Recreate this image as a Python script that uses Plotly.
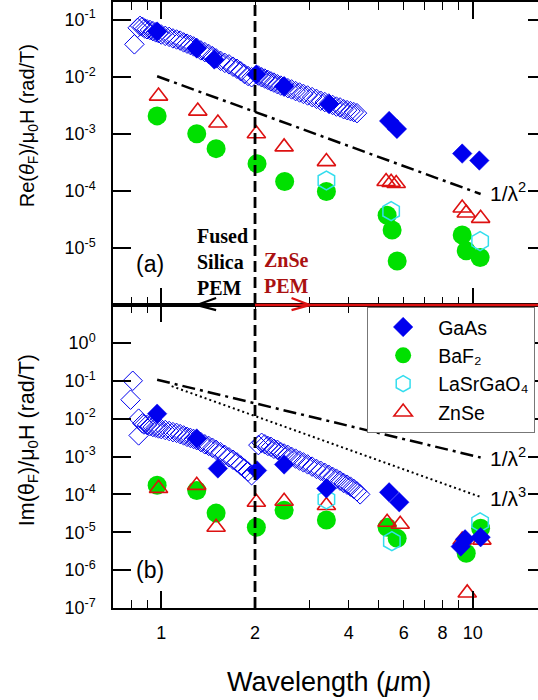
import math
import plotly.graph_objects as go

# ---------------- data : top panel (real part) ----------------
gaas_re_wl = [0.97, 1.30, 1.48, 2.02, 2.48, 3.46, 5.39, 5.71, 9.25, 10.5]
gaas_re = [0.0618, 0.0313, 0.0201, 0.0110, 0.00684, 0.00333, 0.00168, 0.00122, 0.00045, 0.00034]

gaas_re_cont_wl = [0.82, 0.84, 0.855, 0.87, 0.885, 0.90, 0.92, 0.94, 0.96, 0.98, 1.00, 1.03, 1.06,
                   1.09, 1.12, 1.15, 1.18, 1.21, 1.24, 1.27, 1.30, 1.34, 1.38, 1.42, 1.46, 1.50,
                   1.55, 1.60, 1.65, 1.70, 1.75, 1.80, 1.85, 1.90, 1.95,
                   2.05, 2.10, 2.15, 2.20, 2.25, 2.30, 2.36, 2.42, 2.48, 2.55, 2.62, 2.70, 2.78,
                   2.86, 2.95, 3.05, 3.15, 3.25, 3.35, 3.45, 3.55, 3.65, 3.75, 3.85, 3.95, 4.05,
                   4.15, 4.25]
gaas_re_cont = [0.037, 0.072, 0.078, 0.075, 0.070, 0.068, 0.066, 0.063, 0.060, 0.058, 0.055, 0.052,
                0.050, 0.047, 0.045, 0.043, 0.040, 0.038, 0.036, 0.034, 0.032, 0.029, 0.027, 0.025,
                0.023, 0.021, 0.019, 0.0175, 0.0165, 0.015, 0.0138, 0.0125, 0.0112, 0.0103, 0.0098,
                0.0105, 0.0098, 0.0093, 0.0088, 0.0083, 0.0079, 0.0074, 0.0070, 0.0067, 0.0063,
                0.0060, 0.0056, 0.0053, 0.0050, 0.0047, 0.0044, 0.0041, 0.0038, 0.0036, 0.0034,
                0.0032, 0.0030, 0.0029, 0.0027, 0.0026, 0.0025, 0.0024, 0.0023]

baf2_re_wl = [0.97, 1.30, 1.50, 2.03, 2.49, 3.39, 5.31, 5.51, 5.72, 9.25, 9.53, 10.56]
baf2_re = [0.00206, 0.0010, 0.00055, 0.00030, 0.000146, 0.0000977, 3.75e-5, 2.06e-5, 5.9e-6,
           1.68e-5, 8.9e-6, 6.8e-6]

znse_re_wl = [0.98, 1.31, 1.52, 2.02, 2.48, 3.39, 5.27, 5.47, 5.68, 9.25, 9.53, 10.6]
znse_re = [0.00458, 0.0025, 0.00155, 0.0010, 0.00059, 0.000326, 0.000146, 0.000141, 0.000135,
           5.0e-5, 4.1e-5, 3.3e-5]

lsgo_re_wl = [3.39, 5.47, 10.56]
lsgo_re = [0.000152, 4.4e-5, 1.32e-5]

guide_re_wl = [0.97, 10.6]
guide_re_l2 = [0.0102, 8.8e-5]

# ---------------- data : bottom panel (imaginary part) ----------------
gaas_im_wl = [0.97, 1.30, 1.52, 2.03, 2.48, 3.39, 5.39, 5.81, 9.15, 9.45, 10.6]
gaas_im = [0.0135, 0.00298, 0.000483, 0.000428, 0.000616, 0.000144, 0.000113, 6.2e-5,
           4.2e-6, 6.5e-6, 7.4e-6]

gaas_im_cont_wl = [0.81, 0.797, 0.846, 0.846, 0.87, 0.88, 0.90, 0.92, 0.94, 0.96, 0.98, 1.00,
                   1.03, 1.06, 1.09, 1.12, 1.15, 1.18, 1.21, 1.24, 1.27, 1.30, 1.34, 1.38, 1.42,
                   1.46, 1.50, 1.55, 1.60, 1.65, 1.70, 1.75, 1.80, 1.85, 1.90, 1.95,
                   2.05, 2.10, 2.15, 2.20, 2.25, 2.30, 2.36, 2.42, 2.48, 2.55, 2.62, 2.70, 2.78,
                   2.86, 2.95, 3.05, 3.15, 3.25, 3.35, 3.45, 3.55, 3.65, 3.75, 3.85, 3.95, 4.05,
                   4.15, 4.25, 4.35]
gaas_im_cont = [0.10, 0.0316, 0.010, 0.0036, 0.0075, 0.0070, 0.0068, 0.0064, 0.0060, 0.0058,
                0.0055, 0.0053, 0.0050, 0.0047, 0.0044, 0.0042, 0.0039, 0.0036, 0.0033, 0.0031,
                0.0029, 0.0027, 0.0024, 0.0021, 0.0019, 0.0017, 0.0015, 0.0013, 0.0011, 0.00095,
                0.00082, 0.00070, 0.00058, 0.00048, 0.00040, 0.00032,
                0.0020, 0.0023, 0.0021, 0.0019, 0.0018, 0.0016, 0.0015, 0.0013, 0.0012, 0.0011,
                0.00098, 0.00088, 0.00078, 0.00070, 0.00062, 0.00054, 0.00047, 0.00042, 0.00037,
                0.00033, 0.00029, 0.00026, 0.00023, 0.00020, 0.00018, 0.00016, 0.00014, 0.00012,
                0.00010]

baf2_im_wl = [0.97, 1.30, 1.50, 2.02, 2.48, 3.39, 5.31, 5.72, 9.53, 10.6]
baf2_im = [0.000174, 0.000127, 3.2e-5, 1.35e-5, 3.8e-5, 2.1e-5, 1.35e-5, 6.9e-6, 2.8e-6, 1.27e-5]

znse_im_wl = [0.98, 1.30, 1.50, 2.02, 2.48, 3.39, 5.31, 5.85, 9.25, 10.7, 9.6]
znse_im = [0.000144, 0.000173, 1.35e-5, 6.2e-5, 6.6e-5, 5.1e-5, 1.83e-5, 1.62e-5, 6.2e-6, 6.2e-6,
           2.5e-7]

lsgo_im_wl = [3.39, 5.5, 10.56]
lsgo_im = [7.4e-5, 5.8e-6, 1.83e-5]

guide_im_wl = [0.97, 10.6]
guide_im_l2 = [0.106, 9.4e-4]
guide_im_l3_wl = [1.08, 10.7]
guide_im_l3 = [0.072, 8.3e-5]

# ---------------- axis settings ----------------
x_range_um = [0.7, 16.2]
x_label_vals = [1, 2, 4, 6, 8, 10]
x_minor_vals = [0.8, 0.9, 3, 5, 7, 9]
x_long_vals = [1, 10]
re_tick_exp = [-5, -4, -3, -2, -1]
im_tick_exp = [-7, -6, -5, -4, -3, -2, -1, 0]
re_range = [-6, -0.69]
im_range = [-7, 1]
pem_boundary_um = 2

BLUE = "#0000ee"
GREEN = "#00e000"
CYAN = "#33ddee"
RED = "#dd1111"
DARKRED = "#aa1111"
FONT = "Liberation Sans, Arial, sans-serif"
SERIF = "Liberation Serif, Times New Roman, serif"

fig = go.Figure()


def add_panel(xa, ya, cont_wl, cont, baf_wl, baf, zn_wl, zn, ls_wl, ls, ga_wl, ga, legend):
    fig.add_trace(go.Scatter(x=cont_wl, y=cont, mode="markers", xaxis=xa, yaxis=ya,
                             marker=dict(symbol="diamond-open", size=15, color=BLUE,
                                         line=dict(width=1, color=BLUE)),
                             showlegend=False, hoverinfo="skip"))
    fig.add_trace(go.Scatter(x=baf_wl, y=baf, mode="markers", xaxis=xa, yaxis=ya, name="BaF₂",
                             legendrank=2, showlegend=legend,
                             marker=dict(symbol="circle", size=19, color=GREEN, line=dict(width=0))))
    fig.add_trace(go.Scatter(x=zn_wl, y=zn, mode="markers", xaxis=xa, yaxis=ya, name="ZnSe",
                             legendrank=4, showlegend=legend,
                             marker=dict(symbol="triangle-up-open", size=16, color=RED,
                                         line=dict(width=1.6, color=RED))))
    fig.add_trace(go.Scatter(x=ls_wl, y=ls, mode="markers", xaxis=xa, yaxis=ya,
                             name="LaSrGaO₄", legendrank=3, showlegend=legend,
                             marker=dict(symbol="hexagon-open", size=19, color=CYAN,
                                         line=dict(width=1.5, color=CYAN))))
    fig.add_trace(go.Scatter(x=ga_wl, y=ga, mode="markers", xaxis=xa, yaxis=ya, name="GaAs",
                             legendrank=1, showlegend=legend,
                             marker=dict(symbol="diamond", size=15, color=BLUE,
                                         line=dict(width=0.5, color=BLUE))))


add_panel("x", "y", gaas_re_cont_wl, gaas_re_cont, baf2_re_wl, baf2_re, znse_re_wl, znse_re,
          lsgo_re_wl, lsgo_re, gaas_re_wl, gaas_re, False)
add_panel("x2", "y2", gaas_im_cont_wl, gaas_im_cont, baf2_im_wl, baf2_im, znse_im_wl, znse_im,
          lsgo_im_wl, lsgo_im, gaas_im_wl, gaas_im, True)

# guide lines
fig.add_trace(go.Scatter(x=guide_re_wl, y=guide_re_l2, mode="lines", xaxis="x", yaxis="y",
                         line=dict(color="black", width=2.5, dash="13px,5px,3px,5px"),
                         showlegend=False, hoverinfo="skip"))
fig.add_trace(go.Scatter(x=guide_im_wl, y=guide_im_l2, mode="lines", xaxis="x2", yaxis="y2",
                         line=dict(color="black", width=2.5, dash="13px,5px,3px,5px"),
                         showlegend=False, hoverinfo="skip"))
fig.add_trace(go.Scatter(x=guide_im_l3_wl, y=guide_im_l3, mode="lines", xaxis="x2", yaxis="y2",
                         line=dict(color="black", width=2, dash="2px,3px"),
                         showlegend=False, hoverinfo="skip"))

# dummy traces so overlay axes get drawn
for xa, ya in [("x3", "y"), ("x4", "y2"), ("x", "y3"), ("x2", "y4")]:
    fig.add_trace(go.Scatter(x=[1], y=[1e-3], mode="markers", xaxis=xa, yaxis=ya,
                             marker=dict(opacity=0), showlegend=False, hoverinfo="skip"))

xr = [math.log10(x_range_um[0]), math.log10(x_range_um[1])]
base_x = dict(type="log", range=xr, showgrid=False, zeroline=False, showline=True,
              linecolor="black", linewidth=1.5, ticks="inside", ticklen=8, tickwidth=1.2,
              tickcolor="black", tickvals=x_label_vals, ticktext=[str(v) for v in x_label_vals],
              minor=dict(tickvals=x_minor_vals, ticks="inside", ticklen=8, tickwidth=1.2,
                         tickcolor="black"),
              mirror="allticks", tickfont=dict(family=FONT, size=18, color="black"))
long_x = dict(type="log", range=xr, showgrid=False, zeroline=False, showline=False,
              ticks="inside", ticklen=17, tickwidth=1.5, tickcolor="black", tickvals=x_long_vals,
              showticklabels=False, mirror="allticks")


def ylog(exps, rng):
    return dict(type="log", range=rng, showgrid=False, zeroline=False, showline=True,
                linecolor="black", linewidth=1.5, ticks="inside", ticklen=18, tickwidth=1.5,
                tickcolor="black", tickvals=[10 ** e for e in exps],
                ticktext=["10<sup>%d</sup>" % e for e in exps],
                tickfont=dict(family=FONT, size=18, color="black"), ticklabelstandoff=12)


def yright(exps, rng, over, anchor):
    return dict(type="log", range=rng, overlaying=over, side="right", anchor=anchor,
                showgrid=False, zeroline=False, showline=False, ticks="inside", ticklen=10,
                tickwidth=1.5, tickcolor="black", tickvals=[10 ** e for e in exps],
                showticklabels=False)


fig.update_layout(
    width=538, height=700,
    margin=dict(l=113, r=0, t=2, b=92),
    plot_bgcolor="white", paper_bgcolor="white",
    font=dict(family=FONT, color="black"),
    xaxis=dict(base_x, domain=[0, 1], anchor="y", showticklabels=False),
    xaxis2=dict(base_x, domain=[0, 1], anchor="y2", showticklabels=True, ticklabelstandoff=8),
    xaxis3=dict(long_x, overlaying="x", anchor="y"),
    xaxis4=dict(long_x, overlaying="x2", anchor="y2"),
    yaxis=dict(ylog(re_tick_exp, re_range), domain=[0.5, 1], anchor="x"),
    yaxis2=dict(ylog(im_tick_exp, im_range), domain=[0, 0.5], anchor="x2"),
    yaxis3=yright(re_tick_exp, re_range, "y", "x"),
    yaxis4=yright(im_tick_exp, im_range, "y2", "x2"),
    legend=dict(x=0.598, y=0.497, xanchor="left", yanchor="top", bgcolor="white",
                bordercolor="#777777", borderwidth=1, font=dict(family=FONT, size=19.5),
                entrywidth=200, itemwidth=60, tracegroupgap=0),
    showlegend=True,
)

# PEM boundary lines, vertical dashed line and arrows
shapes = [
    dict(type="line", xref="x", yref="paper", x0=pem_boundary_um, x1=pem_boundary_um, y0=0, y1=1,
         line=dict(color="black", width=2.8, dash="11px,5px"), layer="above"),
    dict(type="line", xref="x", yref="paper", x0=x_range_um[0], x1=pem_boundary_um, y0=0.5, y1=0.5,
         line=dict(color="black", width=2.2), layer="above"),
    dict(type="line", xref="x", yref="paper", x0=pem_boundary_um, x1=x_range_um[1], y0=0.5, y1=0.5,
         line=dict(color=RED, width=2.6), layer="above"),
    dict(type="path", xref="x", yref="paper", path="M 1.50,0.5115 L 1.30,0.5 L 1.50,0.4915",
         line=dict(color="black", width=2.2), layer="above"),
    dict(type="path", xref="x", yref="paper", path="M 2.62,0.5115 L 3.0,0.5 L 2.62,0.4915",
         line=dict(color=RED, width=2.2), layer="above"),
]
fig.update_layout(shapes=shapes)

ann = [
    dict(text="<b>Fused<br>Silica<br>PEM</b>", x=0.193, y=0.571, xanchor="left", yanchor="middle",
         align="left", font=dict(family=SERIF, size=20, color="black")),
    dict(text="<b>ZnSe<br>PEM</b>", x=0.351, y=0.552, xanchor="left", yanchor="middle", align="left",
         font=dict(family=SERIF, size=20, color=DARKRED)),
    dict(text="(a)", x=0.087, y=0.568, xanchor="center", yanchor="middle",
         font=dict(family=FONT, size=23)),
    dict(text="(b)", x=0.087, y=0.0627, xanchor="center", yanchor="middle",
         font=dict(family=FONT, size=23)),
    dict(text="1/λ<sup>2</sup>", x=0.882, y=0.686, xanchor="left", yanchor="middle",
         font=dict(family=FONT, size=21)),
    dict(text="1/λ<sup>2</sup>", x=0.882, y=0.249, xanchor="left", yanchor="middle",
         font=dict(family=FONT, size=21)),
    dict(text="1/λ<sup>3</sup>", x=0.882, y=0.183, xanchor="left", yanchor="middle",
         font=dict(family=FONT, size=21)),
    dict(text="Re(<i>θ</i><sub>F</sub>)/μ<sub>0</sub>H (rad/T)", x=-0.2, y=0.795, textangle=-90,
         xanchor="center", yanchor="middle", font=dict(family=FONT, size=20)),
    dict(text="Im(θ<sub>F</sub>)/μ<sub>0</sub>H (rad/T)", x=-0.2, y=0.277, textangle=-90,
         xanchor="center", yanchor="middle", font=dict(family=FONT, size=21.5)),
    dict(text="Wavelength (<i>μ</i>m)", x=0.508, y=-0.122, xanchor="center", yanchor="middle",
         font=dict(family=FONT, size=27)),
]
for a in ann:
    a.update(xref="paper", yref="paper", showarrow=False)
fig.update_layout(annotations=ann)

fig.write_html("out.html", post_script="document.body.style.margin='0';",
               config=dict(displayModeBar=False))
